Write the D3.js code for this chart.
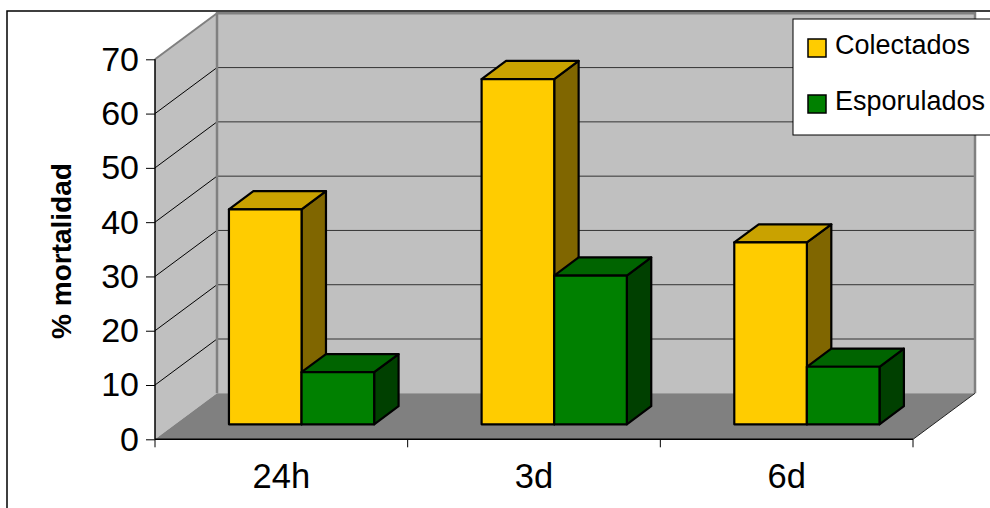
<!DOCTYPE html>
<html>
<head>
<meta charset="utf-8">
<script src="https://cdn.jsdelivr.net/npm/d3@7/dist/d3.min.js"></script>
<style>
  body { margin: 0; background: #fff; }
  svg { display: block; font-family: Arial, 'Liberation Sans', sans-serif; }
</style>
</head>
<body>
<svg width="990" height="508"></svg>
<script>
const categories = ['24h', '3d', '6d'];
const seriesNames = ['Colectados', 'Esporulados'];
const colectados = [39.6, 63.6, 33.5];
const esporulados = [9.6, 27.4, 10.6];
const yTicks = [0, 10, 20, 30, 40, 50, 60, 70];

const svg = d3.select('svg');

// front plane of the plot box + oblique depth offset
const plotLeft = 155, plotRight = 913, plotTop = 59.3, plotBottom = 439.3;
const depthX = 62, depthY = -46;
const barDepth = [0.326, 0.72];

const faceColors = {
  Colectados: { front: '#ffcc00', top: '#c9a200', side: '#806600' },
  Esporulados: { front: '#008000', top: '#006400', side: '#004000' }
};

const xScale = d3.scaleBand()
  .domain(categories)
  .range([plotLeft, plotRight]);

const barScale = d3.scaleBand()
  .domain(seriesNames)
  .range([0, xScale.bandwidth()])
  .paddingInner(0)
  .paddingOuter(0.74);

const yScale = d3.scaleLinear()
  .domain([0, 70])
  .range([plotBottom, plotTop]);

const p = (x, y, d) => [x + d * depthX, y + d * depthY];
const poly = pts => 'M' + pts.map(q => q.join(',')).join('L') + 'Z';

// outer chart border
svg.append('rect')
  .attr('x', 7).attr('y', 11)
  .attr('width', 1100).attr('height', 600)
  .attr('fill', 'none').attr('stroke', '#000').attr('stroke-width', 1.5);

const walls = svg.append('g');
const y0 = yScale(0), yMax = yScale(70);

walls.append('path')
  .attr('d', poly([p(plotLeft, yMax, 0), p(plotLeft, yMax, 1), p(plotLeft, y0, 1), p(plotLeft, y0, 0)]))
  .attr('fill', '#c0c0c0');
walls.append('path')
  .attr('d', poly([p(plotLeft, yMax, 1), p(plotRight, yMax, 1), p(plotRight, y0, 1), p(plotLeft, y0, 1)]))
  .attr('fill', '#c0c0c0');
walls.append('path')
  .attr('d', poly([p(plotLeft, y0, 0), p(plotLeft, y0, 1), p(plotRight, y0, 1), p(plotRight, y0, 0)]))
  .attr('fill', '#808080');

const gridTicks = yTicks.filter(v => v > 0 && v < 70);
walls.selectAll('.grid-back').data(gridTicks)
  .enter().append('line')
    .attr('class', 'grid-back')
    .attr('x1', v => p(plotLeft, yScale(v), 1)[0])
    .attr('y1', v => p(plotLeft, yScale(v), 1)[1])
    .attr('x2', v => p(plotRight, yScale(v), 1)[0])
    .attr('y2', v => p(plotRight, yScale(v), 1)[1])
    .attr('stroke', '#333').attr('stroke-width', 1);
walls.selectAll('.grid-side').data(gridTicks.concat([70]))
  .enter().append('line')
    .attr('class', 'grid-side')
    .attr('x1', v => p(plotLeft, yScale(v), 0)[0])
    .attr('y1', v => p(plotLeft, yScale(v), 0)[1])
    .attr('x2', v => p(plotLeft, yScale(v), 1)[0])
    .attr('y2', v => p(plotLeft, yScale(v), 1)[1])
    .attr('stroke', v => v === 70 ? '#808080' : '#000')
    .attr('stroke-width', v => v === 70 ? 2 : 1);

// wall edges
walls.append('path')
  .attr('d', 'M' + p(plotLeft, y0, 1).join(',') + 'L' + p(plotLeft, yMax, 1).join(',') +
    'L' + p(plotRight, yMax, 1).join(',') + 'L' + p(plotRight, y0, 1).join(','))
  .attr('fill', 'none').attr('stroke', '#808080').attr('stroke-width', 2.5);
walls.append('line')
  .attr('x1', plotRight).attr('y1', y0)
  .attr('x2', p(plotRight, y0, 1)[0]).attr('y2', p(plotRight, y0, 1)[1])
  .attr('stroke', '#222').attr('stroke-width', 1);

// bars
const bars = [];
categories.forEach((c, i) => {
  bars.push({ category: c, series: 'Colectados', value: colectados[i] });
  bars.push({ category: c, series: 'Esporulados', value: esporulados[i] });
});

const barG = svg.append('g').selectAll('g').data(bars)
  .enter().append('g');

const [d0, d1] = barDepth;
const corners = d => {
  const x0 = xScale(d.category) + barScale(d.series);
  const x1 = x0 + barScale.bandwidth();
  return { x0, x1, yt: yScale(d.value), yb: y0 };
};

barG.append('path')
  .attr('d', d => {
    const { x0, x1, yt, yb } = corners(d);
    return poly([p(x1, yt, d0), p(x1, yb, d0), p(x1, yb, d1), p(x1, yt, d1)]);
  })
  .attr('fill', d => faceColors[d.series].side);
barG.append('path')
  .attr('d', d => {
    const { x0, x1, yt } = corners(d);
    return poly([p(x0, yt, d0), p(x1, yt, d0), p(x1, yt, d1), p(x0, yt, d1)]);
  })
  .attr('fill', d => faceColors[d.series].top);
barG.append('path')
  .attr('d', d => {
    const { x0, x1, yt, yb } = corners(d);
    return poly([p(x0, yt, d0), p(x1, yt, d0), p(x1, yb, d0), p(x0, yb, d0)]);
  })
  .attr('fill', d => faceColors[d.series].front);
barG.selectAll('path')
  .attr('stroke', '#000').attr('stroke-width', 2.2).attr('stroke-linejoin', 'round');

// axes
const yAxis = d3.axisLeft(yScale)
  .tickValues(yTicks)
  .tickSize(9)
  .tickPadding(7);

const yAxisG = svg.append('g')
  .attr('transform', `translate(${plotLeft},0)`)
  .call(yAxis);
yAxisG.select('.domain').remove();
yAxisG.selectAll('text').attr('font-size', 34).attr('font-family', null).attr('fill', '#000');
yAxisG.selectAll('line').attr('stroke', '#000');

svg.append('line')
  .attr('x1', plotLeft).attr('y1', yMax).attr('x2', plotLeft).attr('y2', y0)
  .attr('stroke', '#000').attr('stroke-width', 1.5);

const xAxis = d3.axisBottom(xScale)
  .tickSize(0)
  .tickPadding(24.5);

const xAxisG = svg.append('g')
  .attr('transform', `translate(0,${y0})`)
  .call(xAxis);
xAxisG.select('.domain').remove();
xAxisG.selectAll('text').attr('font-size', 34.5).attr('font-family', null).attr('fill', '#000');

svg.append('line')
  .attr('x1', plotLeft).attr('y1', y0).attr('x2', plotRight).attr('y2', y0)
  .attr('stroke', '#000').attr('stroke-width', 1.5);

const bounds = categories.map(c => xScale(c)).concat([plotRight]);
svg.selectAll('.x-tick').data(bounds)
  .enter().append('line')
    .attr('class', 'x-tick')
    .attr('x1', d => d).attr('x2', d => d)
    .attr('y1', y0).attr('y2', y0 + 8)
    .attr('stroke', '#000');

svg.append('text')
  .attr('transform', 'translate(71,251) rotate(-90)')
  .attr('text-anchor', 'middle')
  .attr('font-size', 28)
  .attr('font-weight', 'bold')
  .text('% mortalidad');

// legend
const legend = svg.append('g');
legend.append('rect')
  .attr('x', 793).attr('y', 19)
  .attr('width', 220).attr('height', 116)
  .attr('fill', '#fff').attr('stroke', '#000').attr('stroke-width', 1);

const legendItem = legend.selectAll('.item').data(seriesNames)
  .enter().append('g')
    .attr('class', 'item')
    .attr('transform', (d, i) => `translate(808,${39 + i * 56})`);
legendItem.append('rect')
  .attr('width', 18).attr('height', 18)
  .attr('fill', d => faceColors[d].front)
  .attr('stroke', '#000').attr('stroke-width', 1.5);
legendItem.append('text')
  .attr('x', 27).attr('y', 15)
  .attr('font-size', 27)
  .text(d => d);
</script>
</body>
</html>
